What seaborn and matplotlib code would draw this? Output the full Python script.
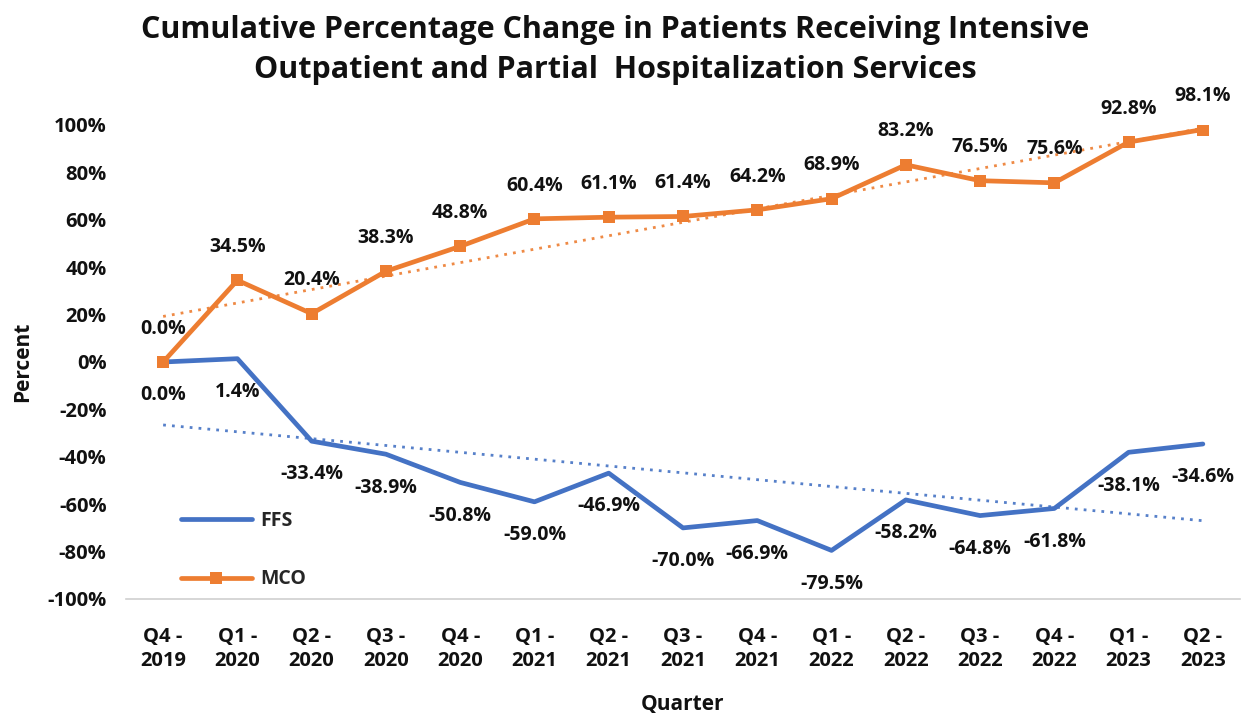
import numpy as np
import pandas as pd
import matplotlib
matplotlib.use("Agg")
import matplotlib.pyplot as plt
import seaborn as sns

quarters = ["Q4 -\n2019", "Q1 -\n2020", "Q2 -\n2020", "Q3 -\n2020", "Q4 -\n2020",
            "Q1 -\n2021", "Q2 -\n2021", "Q3 -\n2021", "Q4 -\n2021", "Q1 -\n2022",
            "Q2 -\n2022", "Q3 -\n2022", "Q4 -\n2022", "Q1 -\n2023", "Q2 -\n2023"]
ffs = [0.0, 1.4, -33.4, -38.9, -50.8, -59.0, -46.9, -70.0, -66.9, -79.5,
       -58.2, -64.8, -61.8, -38.1, -34.6]
mco = [0.0, 34.5, 20.4, 38.3, 48.8, 60.4, 61.1, 61.4, 64.2, 68.9,
       83.2, 76.5, 75.6, 92.8, 98.1]
yticks = [100, 80, 60, 40, 20, 0, -20, -40, -60, -80, -100]

BLUE = "#4472C4"
ORANGE = "#ED7D31"
INK = "#111111"

sns.set_theme(style="white")
plt.rcParams["font.family"] = ["Open Sans", "DejaVu Sans"]
plt.rcParams["font.weight"] = "bold"

fig = plt.figure(figsize=(12.47, 7.13), dpi=100)
ax = fig.add_axes([126 / 1247, 1 - 599 / 713, (1240 - 126) / 1247, (599 - 125) / 713])

x = np.arange(len(quarters))
df = pd.DataFrame({"pos": x, "FFS": ffs, "MCO": mco})

sns.lineplot(data=df, x="pos", y="FFS", ax=ax, color=BLUE, lw=3.4,
             label="FFS", solid_capstyle="round")
sns.lineplot(data=df, x="pos", y="MCO", ax=ax, color=ORANGE, lw=3.4,
             marker="s", markersize=8.5, markeredgewidth=0, label="MCO")

# linear trend lines
for vals, col in ((ffs, BLUE), (mco, ORANGE)):
    k, b = np.polyfit(x, vals, 1)
    ax.plot(x, k * x + b, ls=(0, (1, 2.2)), lw=2, color=col, alpha=0.9, zorder=1)

# data labels
for xi, v in zip(x, mco):
    ax.annotate(f"{v:.1f}%", (xi, v), xytext=(0, 24), textcoords="offset points",
                ha="center", va="center", fontsize=14, fontweight="bold", color=INK)
for xi, v in zip(x, ffs):
    ax.annotate(f"{v:.1f}%", (xi, v), xytext=(0, -24), textcoords="offset points",
                ha="center", va="center", fontsize=14, fontweight="bold", color=INK)

ax.set_xlim(-0.5, len(quarters) - 0.5)
ax.set_ylim(-100, 100)
ax.set_yticks(yticks)
ax.set_yticklabels([f"{t}%" for t in yticks], fontsize=14.5, fontweight="bold", color=INK)
ax.set_xticks(x)
ax.set_xticklabels(quarters, fontsize=14.5, fontweight="bold", color=INK, linespacing=1.3)
ax.tick_params(axis="x", length=0, pad=20)
ax.tick_params(axis="y", length=0, pad=14)

for s in ("top", "right", "left"):
    ax.spines[s].set_visible(False)
ax.spines["bottom"].set_color("#d0d0d0")
ax.spines["bottom"].set_linewidth(1.2)
ax.grid(False)

ax.set_xlabel("Quarter", fontsize=15, fontweight="bold", color=INK, labelpad=16)
ax.set_ylabel("Percent", fontsize=15, fontweight="bold", color=INK, labelpad=10)

leg = ax.legend(loc="upper left", bbox_to_anchor=(163 / 1247, 1 - 493 / 713),
                bbox_transform=fig.transFigure, frameon=False, labelspacing=2.0,
                handlelength=3.7, handletextpad=0.4, prop={"weight": "bold", "size": 14})

fig.suptitle("Cumulative Percentage Change in Patients Receiving Intensive\n"
             "Outpatient and Partial  Hospitalization Services",
             x=615 / 1247, y=1 - 15 / 713, va="top", fontsize=22, fontweight="bold",
             linespacing=1.42, color=INK)

fig.savefig("out.png", dpi=100, facecolor="white")
